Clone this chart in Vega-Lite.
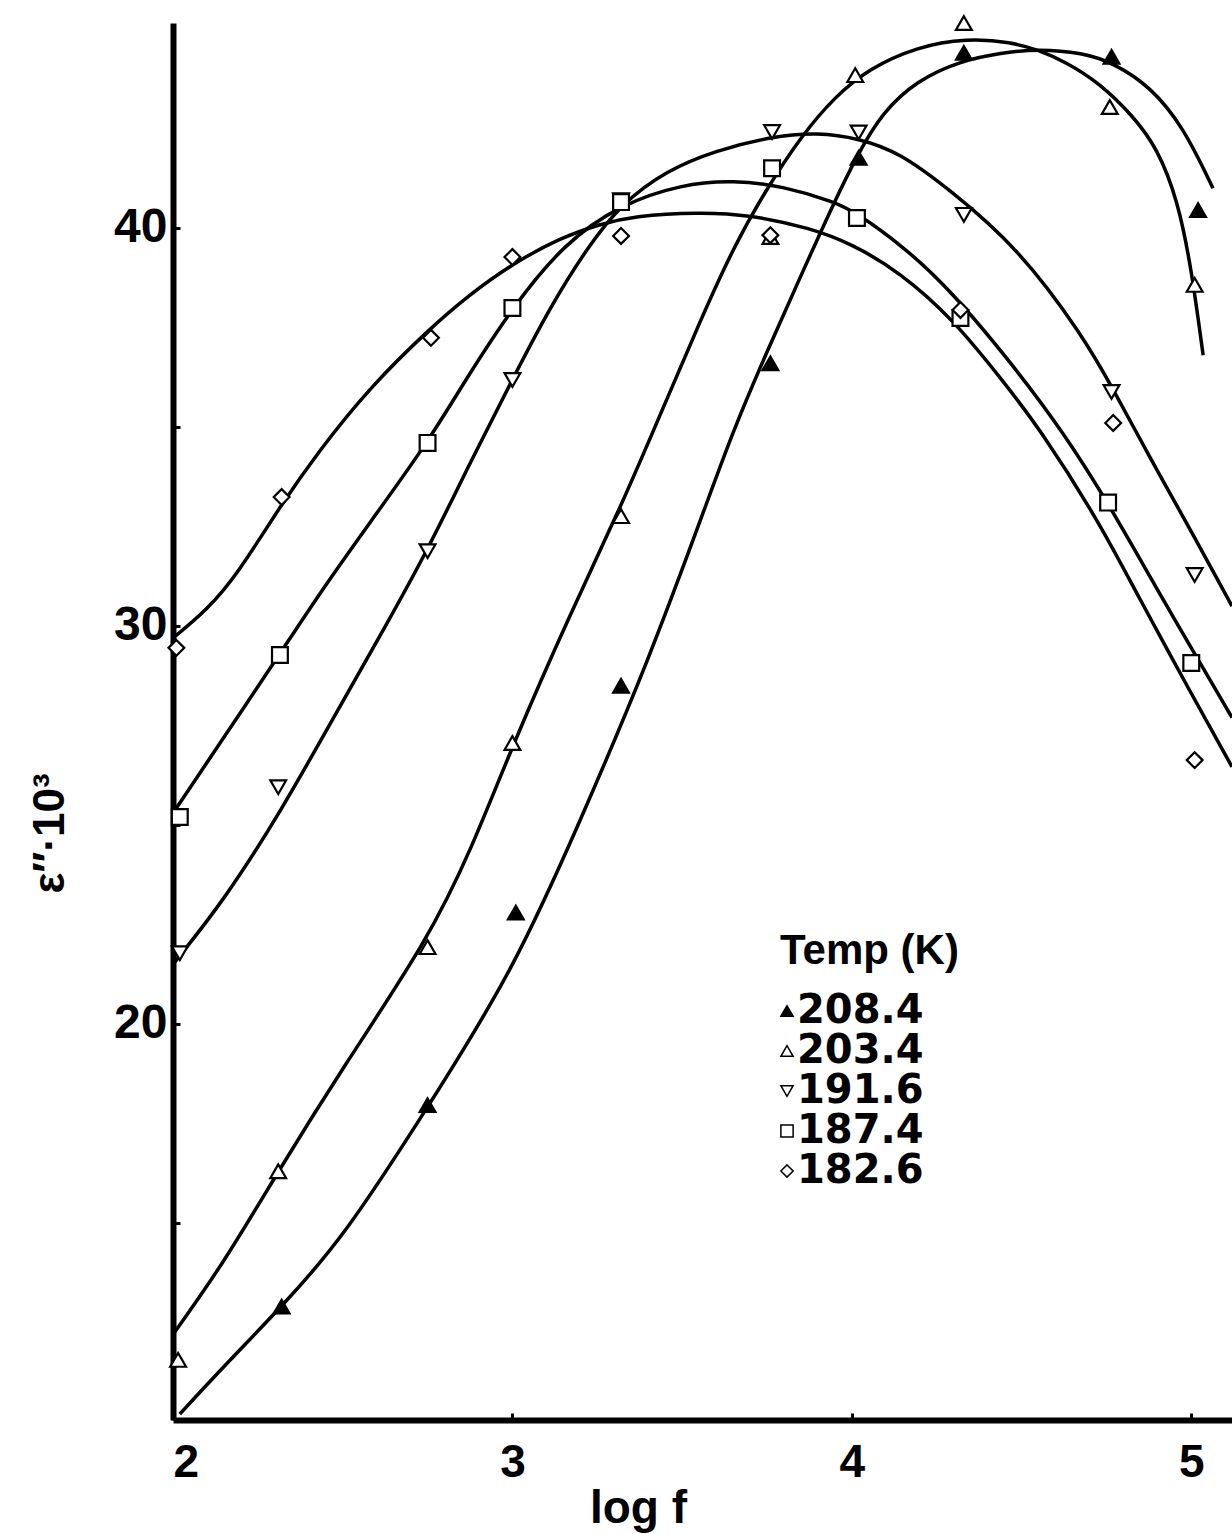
{
  "$schema": "https://vega.github.io/schema/vega-lite/v6.json",
  "width": 1059,
  "height": 1397,
  "autosize": {"type": "none"},
  "padding": {"left": 173, "top": 23, "right": 0, "bottom": 114},
  "background": "white",
  "config": {"view": {"stroke": null}, "font": "Liberation Sans"},
  "datasets": {
    "curves": [
      {"temp": "208.4", "logf": 2.02, "eps": 10.2},
      {"temp": "208.4", "logf": 2.15, "eps": 11.4},
      {"temp": "208.4", "logf": 2.32, "eps": 12.9},
      {"temp": "208.4", "logf": 2.5, "eps": 14.6},
      {"temp": "208.4", "logf": 2.75, "eps": 17.9},
      {"temp": "208.4", "logf": 3.0, "eps": 21.3},
      {"temp": "208.4", "logf": 3.2, "eps": 25.1},
      {"temp": "208.4", "logf": 3.4, "eps": 29.1},
      {"temp": "208.4", "logf": 3.573, "eps": 33.1},
      {"temp": "208.4", "logf": 3.65, "eps": 34.9},
      {"temp": "208.4", "logf": 3.75, "eps": 36.9},
      {"temp": "208.4", "logf": 3.85, "eps": 38.8},
      {"temp": "208.4", "logf": 3.945, "eps": 40.6},
      {"temp": "208.4", "logf": 4.02, "eps": 41.9},
      {"temp": "208.4", "logf": 4.09, "eps": 42.9},
      {"temp": "208.4", "logf": 4.19, "eps": 43.7},
      {"temp": "208.4", "logf": 4.32, "eps": 44.2},
      {"temp": "208.4", "logf": 4.44, "eps": 44.4},
      {"temp": "208.4", "logf": 4.55, "eps": 44.5},
      {"temp": "208.4", "logf": 4.68, "eps": 44.4},
      {"temp": "208.4", "logf": 4.77, "eps": 44.15},
      {"temp": "208.4", "logf": 4.88, "eps": 43.55},
      {"temp": "208.4", "logf": 4.976, "eps": 42.55},
      {"temp": "208.4", "logf": 5.064, "eps": 41.0},
      {"temp": "203.4", "logf": 2.0, "eps": 12.2},
      {"temp": "203.4", "logf": 2.15, "eps": 14.0},
      {"temp": "203.4", "logf": 2.31, "eps": 16.3},
      {"temp": "203.4", "logf": 2.5, "eps": 18.9},
      {"temp": "203.4", "logf": 2.75, "eps": 22.1},
      {"temp": "203.4", "logf": 2.88, "eps": 24.4},
      {"temp": "203.4", "logf": 3.0, "eps": 27.0},
      {"temp": "203.4", "logf": 3.17, "eps": 30.3},
      {"temp": "203.4", "logf": 3.32, "eps": 33.0},
      {"temp": "203.4", "logf": 3.45, "eps": 35.6},
      {"temp": "203.4", "logf": 3.55, "eps": 37.6},
      {"temp": "203.4", "logf": 3.65, "eps": 39.5},
      {"temp": "203.4", "logf": 3.75, "eps": 41.0},
      {"temp": "203.4", "logf": 3.85, "eps": 42.3},
      {"temp": "203.4", "logf": 3.95, "eps": 43.3},
      {"temp": "203.4", "logf": 4.05, "eps": 44.0},
      {"temp": "203.4", "logf": 4.19, "eps": 44.55},
      {"temp": "203.4", "logf": 4.34, "eps": 44.77},
      {"temp": "203.4", "logf": 4.47, "eps": 44.67},
      {"temp": "203.4", "logf": 4.55, "eps": 44.47},
      {"temp": "203.4", "logf": 4.63, "eps": 44.17},
      {"temp": "203.4", "logf": 4.73, "eps": 43.64},
      {"temp": "203.4", "logf": 4.83, "eps": 42.8},
      {"temp": "203.4", "logf": 4.9, "eps": 42.0},
      {"temp": "203.4", "logf": 4.96, "eps": 40.7},
      {"temp": "203.4", "logf": 5.0, "eps": 39.0},
      {"temp": "203.4", "logf": 5.035, "eps": 36.8},
      {"temp": "191.6", "logf": 2.0, "eps": 21.5},
      {"temp": "191.6", "logf": 2.15, "eps": 23.1},
      {"temp": "191.6", "logf": 2.315, "eps": 25.3},
      {"temp": "191.6", "logf": 2.48, "eps": 27.8},
      {"temp": "191.6", "logf": 2.62, "eps": 29.9},
      {"temp": "191.6", "logf": 2.75, "eps": 31.9},
      {"temp": "191.6", "logf": 2.875, "eps": 34.1},
      {"temp": "191.6", "logf": 3.0, "eps": 36.2},
      {"temp": "191.6", "logf": 3.11, "eps": 38.0},
      {"temp": "191.6", "logf": 3.22, "eps": 39.5},
      {"temp": "191.6", "logf": 3.32, "eps": 40.6},
      {"temp": "191.6", "logf": 3.455, "eps": 41.45},
      {"temp": "191.6", "logf": 3.6, "eps": 41.95},
      {"temp": "191.6", "logf": 3.765, "eps": 42.3},
      {"temp": "191.6", "logf": 3.9, "eps": 42.4},
      {"temp": "191.6", "logf": 4.02, "eps": 42.25},
      {"temp": "191.6", "logf": 4.14, "eps": 41.9},
      {"temp": "191.6", "logf": 4.29, "eps": 40.95},
      {"temp": "191.6", "logf": 4.49, "eps": 39.5},
      {"temp": "191.6", "logf": 4.68, "eps": 37.3},
      {"temp": "191.6", "logf": 4.77, "eps": 35.95},
      {"temp": "191.6", "logf": 4.88, "eps": 34.2},
      {"temp": "191.6", "logf": 4.976, "eps": 32.75},
      {"temp": "191.6", "logf": 5.12, "eps": 30.5},
      {"temp": "187.4", "logf": 2.0, "eps": 25.3},
      {"temp": "187.4", "logf": 2.15, "eps": 27.2},
      {"temp": "187.4", "logf": 2.315, "eps": 29.3},
      {"temp": "187.4", "logf": 2.43, "eps": 30.8},
      {"temp": "187.4", "logf": 2.58, "eps": 32.6},
      {"temp": "187.4", "logf": 2.75, "eps": 34.6},
      {"temp": "187.4", "logf": 2.87, "eps": 36.3},
      {"temp": "187.4", "logf": 3.0, "eps": 38.0},
      {"temp": "187.4", "logf": 3.15, "eps": 39.6},
      {"temp": "187.4", "logf": 3.32, "eps": 40.6},
      {"temp": "187.4", "logf": 3.5, "eps": 41.1},
      {"temp": "187.4", "logf": 3.65, "eps": 41.2},
      {"temp": "187.4", "logf": 3.8, "eps": 41.05},
      {"temp": "187.4", "logf": 3.95, "eps": 40.65},
      {"temp": "187.4", "logf": 4.01, "eps": 40.4},
      {"temp": "187.4", "logf": 4.15, "eps": 39.55},
      {"temp": "187.4", "logf": 4.29, "eps": 38.45},
      {"temp": "187.4", "logf": 4.48, "eps": 36.5},
      {"temp": "187.4", "logf": 4.62, "eps": 34.9},
      {"temp": "187.4", "logf": 4.755, "eps": 33.1},
      {"temp": "187.4", "logf": 4.917, "eps": 30.65},
      {"temp": "187.4", "logf": 5.12, "eps": 27.7},
      {"temp": "182.6", "logf": 2.0, "eps": 29.7},
      {"temp": "182.6", "logf": 2.1, "eps": 30.4},
      {"temp": "182.6", "logf": 2.19, "eps": 31.3},
      {"temp": "182.6", "logf": 2.315, "eps": 33.0},
      {"temp": "182.6", "logf": 2.43, "eps": 34.4},
      {"temp": "182.6", "logf": 2.58, "eps": 36.0},
      {"temp": "182.6", "logf": 2.76, "eps": 37.5},
      {"temp": "182.6", "logf": 2.87, "eps": 38.3},
      {"temp": "182.6", "logf": 3.0, "eps": 39.1},
      {"temp": "182.6", "logf": 3.14, "eps": 39.75},
      {"temp": "182.6", "logf": 3.26, "eps": 40.1},
      {"temp": "182.6", "logf": 3.355, "eps": 40.3},
      {"temp": "182.6", "logf": 3.55, "eps": 40.4},
      {"temp": "182.6", "logf": 3.7, "eps": 40.33},
      {"temp": "182.6", "logf": 3.877, "eps": 40.0},
      {"temp": "182.6", "logf": 4.0, "eps": 39.6},
      {"temp": "182.6", "logf": 4.14, "eps": 38.9},
      {"temp": "182.6", "logf": 4.3, "eps": 37.7},
      {"temp": "182.6", "logf": 4.45, "eps": 36.1},
      {"temp": "182.6", "logf": 4.55, "eps": 35.0},
      {"temp": "182.6", "logf": 4.73, "eps": 32.6},
      {"temp": "182.6", "logf": 4.84, "eps": 30.8},
      {"temp": "182.6", "logf": 5.0, "eps": 28.3},
      {"temp": "182.6", "logf": 5.12, "eps": 26.46}
    ],
    "points": [
      {"temp": "208.4", "logf": 2.32, "eps": 12.9},
      {"temp": "208.4", "logf": 2.75, "eps": 17.96},
      {"temp": "208.4", "logf": 3.01, "eps": 22.8},
      {"temp": "208.4", "logf": 3.32, "eps": 28.5},
      {"temp": "208.4", "logf": 3.76, "eps": 36.6},
      {"temp": "208.4", "logf": 4.02, "eps": 41.76},
      {"temp": "208.4", "logf": 4.33, "eps": 44.4},
      {"temp": "208.4", "logf": 4.765, "eps": 44.3},
      {"temp": "208.4", "logf": 5.02, "eps": 40.45},
      {"temp": "203.4", "logf": 2.015, "eps": 11.56},
      {"temp": "203.4", "logf": 2.31, "eps": 16.3},
      {"temp": "203.4", "logf": 2.75, "eps": 21.93},
      {"temp": "203.4", "logf": 3.0, "eps": 27.06},
      {"temp": "203.4", "logf": 3.32, "eps": 32.76},
      {"temp": "203.4", "logf": 3.76, "eps": 39.77},
      {"temp": "203.4", "logf": 4.01, "eps": 43.84},
      {"temp": "203.4", "logf": 4.33, "eps": 45.15},
      {"temp": "203.4", "logf": 4.76, "eps": 43.04},
      {"temp": "203.4", "logf": 5.01, "eps": 38.57},
      {"temp": "191.6", "logf": 2.02, "eps": 21.78},
      {"temp": "191.6", "logf": 2.31, "eps": 25.95},
      {"temp": "191.6", "logf": 2.75, "eps": 31.88},
      {"temp": "191.6", "logf": 3.0, "eps": 36.18},
      {"temp": "191.6", "logf": 3.32, "eps": 40.7},
      {"temp": "191.6", "logf": 3.765, "eps": 42.41},
      {"temp": "191.6", "logf": 4.02, "eps": 42.4},
      {"temp": "191.6", "logf": 4.33, "eps": 40.33},
      {"temp": "191.6", "logf": 4.765, "eps": 35.88},
      {"temp": "191.6", "logf": 5.01, "eps": 31.28},
      {"temp": "187.4", "logf": 2.02, "eps": 25.2},
      {"temp": "187.4", "logf": 2.315, "eps": 29.27},
      {"temp": "187.4", "logf": 2.75, "eps": 34.6},
      {"temp": "187.4", "logf": 3.0, "eps": 37.99},
      {"temp": "187.4", "logf": 3.32, "eps": 40.65},
      {"temp": "187.4", "logf": 3.765, "eps": 41.5},
      {"temp": "187.4", "logf": 4.015, "eps": 40.25},
      {"temp": "187.4", "logf": 4.32, "eps": 37.74},
      {"temp": "187.4", "logf": 4.755, "eps": 33.1},
      {"temp": "187.4", "logf": 5.0, "eps": 29.07},
      {"temp": "182.6", "logf": 2.01, "eps": 29.45},
      {"temp": "182.6", "logf": 2.32, "eps": 33.24},
      {"temp": "182.6", "logf": 2.76, "eps": 37.24},
      {"temp": "182.6", "logf": 3.0, "eps": 39.27},
      {"temp": "182.6", "logf": 3.32, "eps": 39.8},
      {"temp": "182.6", "logf": 3.76, "eps": 39.82},
      {"temp": "182.6", "logf": 4.32, "eps": 37.94},
      {"temp": "182.6", "logf": 4.77, "eps": 35.1},
      {"temp": "182.6", "logf": 5.01, "eps": 26.63}
    ]
  },
  "encoding": {
    "x": {
      "field": "logf",
      "type": "quantitative",
      "scale": {"domain": [2, 5.12], "nice": false, "zero": false},
      "axis": {
        "values": [2, 3, 4, 5],
        "grid": false,
        "domainWidth": 6,
        "domainColor": "black",
        "tickColor": "black",
        "tickWidth": 3,
        "tickSize": -7,
        "labelFont": "Liberation Sans",
        "labelFontSize": 46,
        "labelFontWeight": "bold",
        "labelColor": "black",
        "labelPadding": 27,
        "labelFlush": true,
        "title": "log f",
        "titleFont": "Liberation Sans",
        "titleFontSize": 46,
        "titleFontWeight": "bold",
        "titleColor": "black",
        "titleX": 465,
        "titleY": 102,
        "titleAlign": "center",
        "titleBaseline": "alphabetic",
        "titleAnchor": null
      }
    },
    "y": {
      "field": "eps",
      "type": "quantitative",
      "scale": {"domain": [10.05, 45.15], "nice": false, "zero": false},
      "axis": {
        "values": [15, 20, 25, 30, 35, 40],
        "labelExpr": "datum.value % 10 === 0 ? datum.label : ''",
        "grid": false,
        "domainWidth": 6,
        "domainColor": "black",
        "tickColor": "black",
        "tickWidth": 3,
        "tickSize": -7,
        "labelFont": "Liberation Sans",
        "labelFontSize": 48,
        "labelFontWeight": "bold",
        "labelColor": "black",
        "labelPadding": 13,
        "title": "ε″·10³",
        "titleFont": "Liberation Sans",
        "titleFontSize": 44,
        "titleFontWeight": "bold",
        "titleColor": "black",
        "titleX": -110,
        "titleY": 810,
        "titleAngle": 270,
        "titleAlign": "center",
        "titleBaseline": "alphabetic",
        "titleAnchor": null
      }
    }
  },
  "layer": [
    {
      "data": {"name": "curves"},
      "mark": {"type": "line", "interpolate": "basis", "color": "black", "strokeWidth": 3.5},
      "encoding": {"detail": {"field": "temp", "type": "nominal"}}
    },
    {
      "data": {"name": "points"},
      "mark": {"type": "point", "filled": true, "strokeWidth": 2.2, "size": 250, "opacity": 1},
      "encoding": {
        "shape": {
          "field": "temp",
          "type": "nominal",
          "scale": {"domain": ["208.4", "203.4", "191.6", "187.4", "182.6"], "range": ["triangle-up", "triangle-up", "triangle-down", "square", "diamond"]},
          "legend": {
            "title": "Temp (K)",
            "orient": "none",
            "legendX": 607,
            "legendY": 908,
            "padding": 0,
            "titleFont": "Liberation Sans",
            "titleFontSize": 42,
            "titleFontWeight": "bold",
            "titleColor": "black",
            "titlePadding": 18,
            "titleLimit": 400,
            "labelFont": "DejaVu Sans",
            "labelFontSize": 40,
            "labelFontWeight": "bold",
            "labelColor": "black",
            "labelLimit": 400,
            "labelOffset": -10,
            "symbolOffset": -13,
            "symbolSize": 150,
            "symbolStrokeWidth": 1.5,
            "symbolOpacity": 1,
            "rowPadding": 0
          }
        },
        "fill": {
          "field": "temp",
          "type": "nominal",
          "scale": {"domain": ["208.4", "203.4", "191.6", "187.4", "182.6"], "range": ["black", "white", "white", "white", "white"]}
        },
        "stroke": {
          "field": "temp",
          "type": "nominal",
          "scale": {"domain": ["208.4", "203.4", "191.6", "187.4", "182.6"], "range": ["black", "black", "black", "black", "black"]}
        }
      }
    }
  ]
}
